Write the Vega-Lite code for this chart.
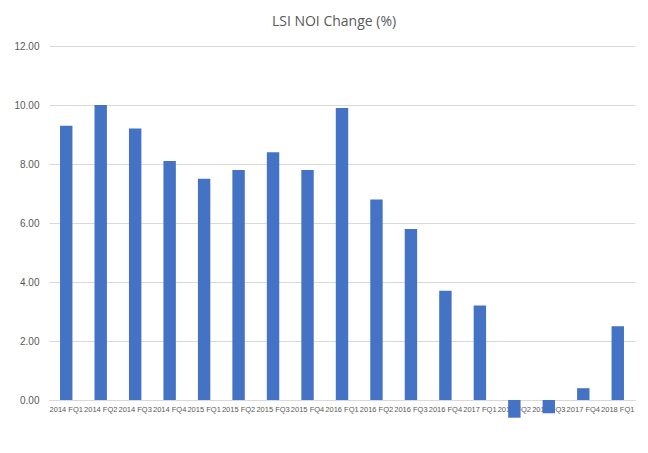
{
  "$schema": "https://vega.github.io/schema/vega-lite/v6.json",
  "autosize": "none",
  "width": 586,
  "height": 354,
  "padding": {"left": 49, "top": 46, "right": 13, "bottom": 53},
  "background": "white",
  "title": {
    "text": "LSI NOI Change (%)",
    "font": "Open Sans",
    "fontSize": 14,
    "fontWeight": "normal",
    "color": "#595959",
    "anchor": "middle",
    "frame": "group",
    "offset": 12,
    "dx": -8
  },
  "data": {
    "values": [
      {"q": "2014 FQ1", "v": 9.3},
      {"q": "2014 FQ2", "v": 10.0},
      {"q": "2014 FQ3", "v": 9.2},
      {"q": "2014 FQ4", "v": 8.1},
      {"q": "2015 FQ1", "v": 7.5},
      {"q": "2015 FQ2", "v": 7.8},
      {"q": "2015 FQ3", "v": 8.4},
      {"q": "2015 FQ4", "v": 7.8},
      {"q": "2016 FQ1", "v": 9.9},
      {"q": "2016 FQ2", "v": 6.8},
      {"q": "2016 FQ3", "v": 5.8},
      {"q": "2016 FQ4", "v": 3.7},
      {"q": "2017 FQ1", "v": 3.2},
      {"q": "2017 FQ2", "v": -0.6},
      {"q": "2017 FQ3", "v": -0.45},
      {"q": "2017 FQ4", "v": 0.4},
      {"q": "2018 FQ1", "v": 2.5}
    ]
  },
  "mark": {"type": "bar", "color": "#4472C4"},
  "encoding": {
    "x": {
      "field": "q",
      "type": "ordinal",
      "sort": null,
      "title": null,
      "scale": {"paddingInner": 0.64, "paddingOuter": 0.32},
      "axis": {
        "labelAngle": 0,
        "labelFont": "Liberation Sans",
        "labelFontSize": 7.5,
        "labelColor": "#595959",
        "labelPadding": 5,
        "ticks": false,
        "domainColor": "#d9d9d9",
        "labelOverlap": false,
        "zindex": 0
      }
    },
    "y": {
      "field": "v",
      "type": "quantitative",
      "title": null,
      "scale": {"domain": [0, 12], "nice": false},
      "axis": {
        "values": [0, 2, 4, 6, 8, 10, 12],
        "format": ".2f",
        "labelFont": "Liberation Sans",
        "labelFontSize": 10,
        "labelColor": "#595959",
        "labelPadding": 10,
        "ticks": false,
        "domain": false,
        "gridColor": "#d9d9d9",
        "zindex": 0
      }
    }
  },
  "config": {"view": {"stroke": null}}
}
